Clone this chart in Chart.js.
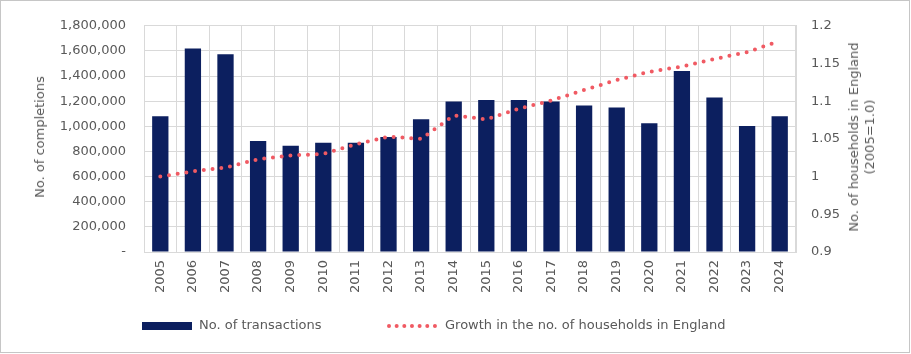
<!DOCTYPE html>
<html>
<head>
<meta charset="utf-8">
<script src="https://cdn.jsdelivr.net/npm/chart.js@4"></script>
<style>
  body { margin: 0; background: #fff; }
  #wrap { position: relative; width: 911px; height: 354px; font-family: "DejaVu Sans", sans-serif; color: #595959; }
  #frame { position: absolute; left: 0; top: 0; width: 910px; height: 353px; box-sizing: border-box; border: 1px solid #c6c6c6; pointer-events: none; }
  canvas { position: absolute; left: 0; top: 0; }
  .ytitle { position: absolute; font-size: 13px; white-space: nowrap; transform: translate(-50%, -50%) rotate(-90deg); text-align: center; line-height: 16px; }
  .leg { position: absolute; font-size: 13px; white-space: nowrap; }
  #sw-bar { position: absolute; left: 142px; top: 322px; width: 50px; height: 8px; background: #0c1f5f; }
  #sw-line { position: absolute; left: 387px; top: 324px; width: 50px; height: 0; border-top: 4px dotted #f05a63; }
</style>
</head>
<body>
<div id="wrap">
  <canvas id="chart" width="911" height="354"></canvas>
  <div class="ytitle" style="left:40px; top:137px;">No. of completions</div>
  <div class="ytitle" style="left:862px; top:137px;">No. of households in England<br>(2005=1.0)</div>
  <div id="sw-bar"></div>
  <div class="leg" style="left:199px; top:317px;">No. of transactions</div>
  <div id="sw-line"></div>
  <div class="leg" style="left:445px; top:317px;">Growth in the no. of households in England</div>
  <div id="frame"></div>
</div>
<script>
const years = ['2005', '2006', '2007', '2008', '2009', '2010', '2011', '2012', '2013', '2014',
  '2015', '2016', '2017', '2018', '2019', '2020', '2021', '2022', '2023', '2024'];

// Residential transactions (completions)
const transactions = [1080000, 1620000, 1573000, 884000, 845000, 869000, 869000, 916000, 1057000, 1197000,
  1210000, 1210000, 1197000, 1166000, 1150000, 1025000, 1440000, 1229000, 1002000, 1080000];

// Household growth index, 2005 = 1.0
const householdGrowth = [1.000, 1.007, 1.012, 1.023, 1.028, 1.030, 1.043, 1.053, 1.050, 1.081,
  1.076, 1.090, 1.101, 1.115, 1.128, 1.139, 1.146, 1.156, 1.165, 1.180];

const textColor = '#595959';
const gridColor = '#d9d9d9';
const tickFont = { family: 'DejaVu Sans', size: 13 };

const ctx = document.getElementById('chart');

new Chart(ctx, {
  type: 'bar',
  data: {
    labels: years,
    datasets: [
      {
        type: 'line',
        label: 'Growth in the no. of households in England',
        data: householdGrowth,
        yAxisID: 'y1',
        borderColor: '#f05a63',
        borderWidth: 4,
        borderDash: [0, 8.8],
        borderCapStyle: 'round',
        pointRadius: 0,
        fill: false,
        tension: 0,
        order: 0,
      },
      {
        type: 'bar',
        label: 'No. of transactions',
        data: transactions,
        yAxisID: 'y',
        backgroundColor: '#0c1f5f',
        barPercentage: 0.5,
        categoryPercentage: 1,
        order: 1,
      },
    ],
  },
  options: {
    responsive: false,
    animation: false,
    devicePixelRatio: 1,
    layout: { padding: { top: 18, bottom: 48, left: 0, right: 0 } },
    plugins: { legend: { display: false }, tooltip: { enabled: false } },
    scales: {
      x: {
        grid: { color: gridColor, offset: true, tickLength: 0 },
        border: { color: gridColor },
        ticks: { color: textColor, font: tickFont, minRotation: 90, maxRotation: 90, autoSkip: false, padding: 8 },
        afterFit: (s) => { s.height = 54; },
      },
      y: {
        position: 'left',
        min: 0,
        max: 1800000,
        grid: { color: gridColor, drawTicks: false },
        border: { color: gridColor },
        ticks: {
          stepSize: 200000,
          color: textColor,
          font: tickFont,
          padding: 18,
          callback: (v) => (v === 0 ? '-' : v.toLocaleString('en-US')),
        },
        afterFit: (s) => { s.width = 144; },
      },
      y1: {
        position: 'right',
        min: 0.9,
        max: 1.2,
        grid: { drawOnChartArea: false, drawTicks: false },
        border: { color: gridColor },
        ticks: {
          stepSize: 0.05,
          color: textColor,
          font: tickFont,
          padding: 15,
          callback: (v) => String(Number(v.toFixed(2))),
        },
        afterFit: (s) => { s.width = 115; },
      },
    },
  },
});
</script>
</body>
</html>
